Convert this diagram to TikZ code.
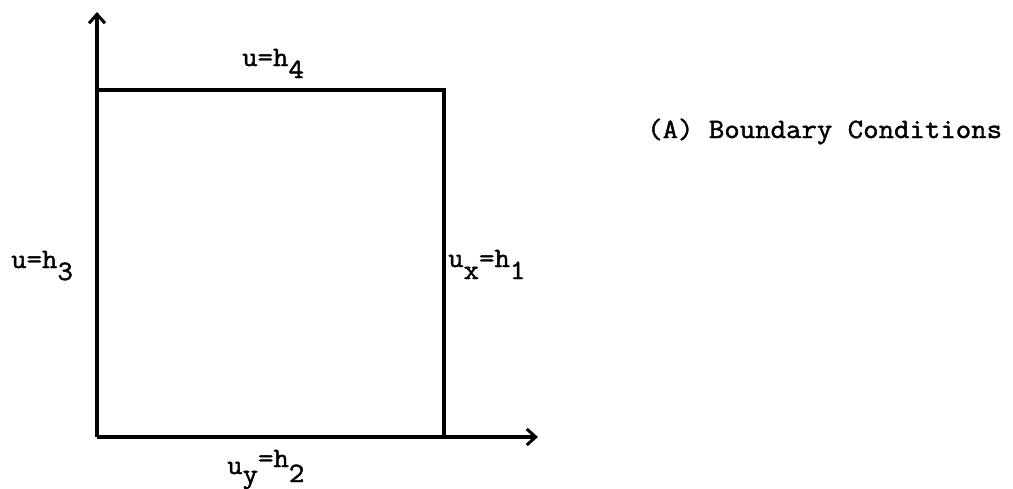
\documentclass[tikz,border=0pt]{standalone}
\usepackage{fontspec}
\newfontfamily\twr{Latin Modern Mono}[FakeBold=1.5]
\usetikzlibrary{arrows.meta}
\tikzset{
  axis/.style={line width=3.5pt,-{Straight Barb[length=9pt,width=16pt,line width=3pt]}},
  edge/.style={line width=3.5pt},
  lbl/.style={font=\twr\fontsize{28}{32}\selectfont,inner sep=0pt,anchor=base west}
}
\newcommand{\sbx}[1]{\raisebox{-12pt}{#1}}
\newcommand{\widen}[1]{\scalebox{1.07}[1]{#1}}
\begin{document}
\begin{tikzpicture}[x=1pt,y=-1pt]
\useasboundingbox (0,0) rectangle (1013,488);
\coordinate (O) at (97,437);
\coordinate (ytip) at (97,12);
\coordinate (xtip) at (538,437);
\coordinate (TL) at (97,90);
\coordinate (TR) at (444,90);
\coordinate (BR) at (444,437);
\draw[axis] (O) -- (ytip);
\draw[axis] (O) -- (xtip);
\draw[edge] (TL) -- (TR) -- (BR);
\node[lbl] (top) at (242,66) {\widen{u=h\sbx{4}}};
\node[lbl] (left) at (11,268) {\widen{u=h\sbx{3}}};
\node[lbl] (right) at (448,267) {\widen{u\sbx{x}=h\sbx{1}}};
\node[lbl] (bottom) at (227,474) {\widen{u\raisebox{-9pt}{y}\raisebox{7pt}{=h}\raisebox{-8pt}{2}}};
\node[lbl] (title) at (647,138) {\widen{(A) Boundary Conditions}};
\end{tikzpicture}
\end{document}
